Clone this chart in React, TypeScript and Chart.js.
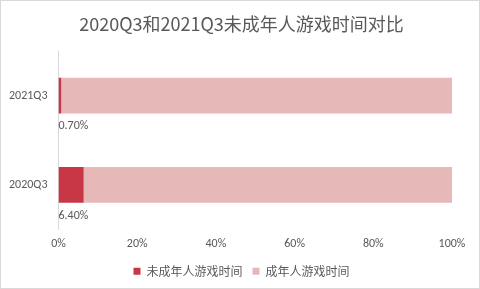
import React, { useEffect, useRef } from "react";
import { Chart, registerables } from "chart.js";

Chart.register(...registerables);

const categories = ["2021Q3", "2020Q3"];
const minorShare = [0.7, 6.4];
const adultShare = [99.3, 93.6];
const seriesNames = ["未成年人游戏时间", "成年人游戏时间"];
const titleText = "2020Q3和2021Q3未成年人游戏时间对比";

const FONT = "Calibri, Carlito, 'Liberation Sans', 'Noto Sans CJK SC', sans-serif";
const CJK_FONT = "'Microsoft YaHei', 'Noto Sans CJK SC', sans-serif";
const TEXT = "#595959";

const labelPlugin = {
  id: "belowLabels",
  afterDatasetsDraw(chart: any) {
    const meta = chart.getDatasetMeta(0);
    const ctx = chart.ctx;
    const x0 = chart.scales.x.getPixelForValue(0);
    ctx.save();
    ctx.font = `12px ${FONT}`;
    ctx.fillStyle = TEXT;
    ctx.textAlign = "left";
    ctx.textBaseline = "middle";
    meta.data.forEach((bar: any, i: number) => {
      const y = bar.y + bar.height / 2 + 13;
      ctx.fillText(minorShare[i].toFixed(2) + "%", x0, y);
    });
    ctx.restore();
  },
};

export default function App() {
  const ref = useRef<HTMLCanvasElement>(null);
  useEffect(() => {
    if (!ref.current) return;
    const chart = new Chart(ref.current, {
      type: "bar",
      data: {
        labels: categories,
        datasets: [
          {
            label: seriesNames[0],
            data: minorShare,
            backgroundColor: "#C83746",
            categoryPercentage: 1,
            barPercentage: 0.4,
          },
          {
            label: seriesNames[1],
            data: adultShare,
            backgroundColor: "#E6B8B7",
            categoryPercentage: 1,
            barPercentage: 0.4,
          },
        ],
      },
      options: {
        indexAxis: "y",
        animation: false,
        responsive: false,
        layout: { padding: { top: 0, bottom: 1.8, left: 3, right: 0 } },
        scales: {
          x: {
            stacked: true,
            min: 0,
            max: 100,
            ticks: {
              stepSize: 20,
              padding: 7.8,
              color: TEXT,
              font: { family: FONT, size: 12 },
              callback: (v: any) => v + "%",
            },
            grid: { display: false, drawTicks: false },
            border: { display: false },
            afterFit: (s: any) => {
              s.height = 25.8;
            },
          },
          y: {
            stacked: true,
            ticks: {
              padding: 11,
              color: TEXT,
              font: { family: FONT, size: 12 },
            },
            grid: { display: false, drawTicks: false },
            border: { display: true, color: "#D9D9D9", width: 1 },
            afterFit: (s: any) => {
              s.width = 55.5;
            },
          },
          yRight: {
            type: "linear",
            position: "right",
            display: true,
            ticks: { display: false },
            grid: { display: false, drawTicks: false },
            border: { display: false },
            afterFit: (s: any) => {
              s.width = 28;
            },
          },
        },
        plugins: {
          title: {
            display: true,
            text: titleText,
            color: TEXT,
            font: { family: CJK_FONT, size: 18, weight: "normal" },
            padding: { top: 13.2, bottom: 16.2 },
          },
          legend: {
            position: "bottom",
            labels: {
              boxWidth: 7,
              boxHeight: 7,
              padding: 10,
              color: TEXT,
              font: { family: CJK_FONT, size: 12 },
            },
          },
          tooltip: { enabled: false },
        },
      },
      plugins: [labelPlugin],
    });
    return () => chart.destroy();
  }, []);
  return (
    <div style={{ position: "fixed", left: 0, top: 0, width: 480, height: 289, background: "#fff" }}>
      <canvas ref={ref} width={480} height={289} style={{ position: "absolute", left: 0, top: 0 }} />
      <div
        style={{
          position: "absolute",
          left: 0,
          top: 0,
          width: 480,
          height: 289,
          boxSizing: "border-box",
          border: "1px solid #D9D9D9",
          pointerEvents: "none",
        }}
      />
    </div>
  );
}
